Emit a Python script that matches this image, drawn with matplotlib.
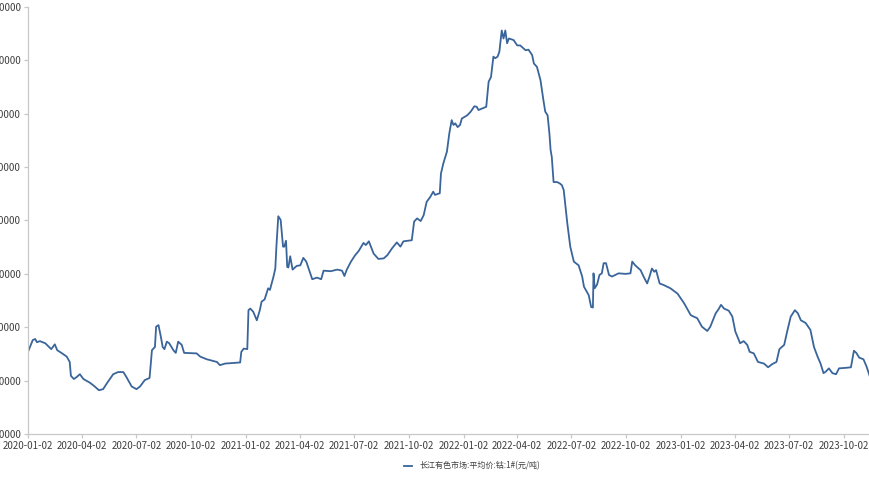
"""
    Cobalt 1# average price, Changjiang market
"""

import matplotlib
matplotlib.use('Agg')
import matplotlib.pyplot as plt
import matplotlib.dates as mdates
import pandas as pd

plt.rcParams['font.family'] = ['Noto Sans CJK SC', 'DejaVu Sans']

series_name = '长江有色市场:平均价:钴:1#(元/吨)'

dates = [
    '2020-01-02', '2020-01-10', '2020-01-14', '2020-01-17', '2020-01-22', '2020-01-31',
    '2020-02-10', '2020-02-16', '2020-02-20', '2020-02-27', '2020-03-07', '2020-03-12',
    '2020-03-14', '2020-03-19', '2020-03-24', '2020-03-29', '2020-04-04', '2020-04-15',
    '2020-04-23', '2020-04-30', '2020-05-07', '2020-05-14', '2020-05-24', '2020-06-01',
    '2020-06-10', '2020-06-15', '2020-06-24', '2020-07-02', '2020-07-08', '2020-07-16',
    '2020-07-24', '2020-07-28', '2020-08-02', '2020-08-04', '2020-08-08', '2020-08-12',
    '2020-08-15', '2020-08-18', '2020-08-22', '2020-08-26', '2020-09-02', '2020-09-06',
    '2020-09-10', '2020-09-16', '2020-09-20', '2020-10-11', '2020-10-17', '2020-10-28',
    '2020-11-14', '2020-11-19', '2020-11-28', '2020-12-23', '2020-12-25', '2020-12-29',
    '2021-01-04', '2021-01-06', '2021-01-09', '2021-01-14', '2021-01-20', '2021-01-25',
    '2021-01-28', '2021-02-02', '2021-02-06', '2021-02-08', '2021-02-11', '2021-02-17',
    '2021-02-20', '2021-02-22', '2021-02-25', '2021-03-01', '2021-03-05', '2021-03-07',
    '2021-03-10', '2021-03-12', '2021-03-14', '2021-03-17', '2021-03-21', '2021-03-28',
    '2021-04-03', '2021-04-08', '2021-04-13', '2021-04-17', '2021-04-23', '2021-05-01',
    '2021-05-08', '2021-05-12', '2021-05-24', '2021-06-04', '2021-06-12', '2021-06-16',
    '2021-06-20', '2021-06-27', '2021-07-04', '2021-07-10', '2021-07-18', '2021-07-22',
    '2021-07-27', '2021-08-04', '2021-08-12', '2021-08-21', '2021-08-27', '2021-09-04',
    '2021-09-12', '2021-09-18', '2021-09-23', '2021-10-07', '2021-10-11', '2021-10-16',
    '2021-10-22', '2021-10-27', '2021-11-01', '2021-11-07', '2021-11-12', '2021-11-15',
    '2021-11-23', '2021-11-25', '2021-11-29', '2021-12-05', '2021-12-09', '2021-12-13',
    '2021-12-16', '2021-12-19', '2021-12-23', '2021-12-27', '2021-12-30', '2022-01-08',
    '2022-01-14', '2022-01-20', '2022-01-24', '2022-01-27', '2022-02-09', '2022-02-13',
    '2022-02-17', '2022-02-21', '2022-02-24', '2022-02-28', '2022-03-03', '2022-03-07',
    '2022-03-10', '2022-03-13', '2022-03-16', '2022-03-19', '2022-03-27', '2022-04-02',
    '2022-04-07', '2022-04-16', '2022-04-21', '2022-04-27', '2022-04-30', '2022-05-05',
    '2022-05-11', '2022-05-16', '2022-05-19', '2022-05-23', '2022-05-26', '2022-05-28',
    '2022-05-30', '2022-06-02', '2022-06-08', '2022-06-13', '2022-06-16', '2022-06-19',
    '2022-06-25', '2022-06-30', '2022-07-06', '2022-07-14', '2022-07-20', '2022-07-23',
    '2022-07-31', '2022-08-04', '2022-08-07', '2022-08-08', '2022-08-10', '2022-08-14',
    '2022-08-18', '2022-08-22', '2022-08-25', '2022-08-29', '2022-09-03', '2022-09-08',
    '2022-09-19', '2022-10-01', '2022-10-09', '2022-10-12', '2022-10-17', '2022-10-26',
    '2022-10-31', '2022-11-06', '2022-11-10', '2022-11-14', '2022-11-18', '2022-11-21',
    '2022-11-27', '2022-12-04', '2022-12-15', '2022-12-27', '2023-01-07', '2023-01-18',
    '2023-01-21', '2023-01-29', '2023-02-06', '2023-02-15', '2023-02-20', '2023-02-24',
    '2023-03-01', '2023-03-06', '2023-03-10', '2023-03-15', '2023-03-23', '2023-03-29',
    '2023-04-03', '2023-04-11', '2023-04-17', '2023-04-23', '2023-04-27', '2023-05-04',
    '2023-05-11', '2023-05-21', '2023-05-28', '2023-06-04', '2023-06-11', '2023-06-16',
    '2023-06-24', '2023-06-29', '2023-07-05', '2023-07-12', '2023-07-17', '2023-07-22',
    '2023-07-30', '2023-08-07', '2023-08-13', '2023-08-19', '2023-08-24', '2023-08-29',
    '2023-09-02', '2023-09-07', '2023-09-13', '2023-09-19', '2023-09-24', '2023-10-06',
    '2023-10-14', '2023-10-19', '2023-10-23', '2023-10-28', '2023-11-04', '2023-11-09',
    '2023-11-15',
]

prices = [
    277000, 288000, 289000, 286000, 287000, 285000,
    279500, 284000, 278500, 276000, 272500, 267500,
    254500, 251500, 253500, 256000, 251500, 248000,
    244500, 241000, 242000, 248000, 256000, 258000,
    258000, 253500, 244500, 242000, 244500, 250500,
    252500, 278500, 281500, 300500, 302000, 291000,
    281500, 279500, 286500, 285000, 278500, 276000,
    286500, 283500, 276000, 275500, 272500, 270000,
    267500, 264500, 266000, 267000, 277000, 280000,
    279500, 316000, 317500, 314500, 306500, 316000,
    324000, 326000, 333000, 336500, 335000, 347500,
    355000, 377000, 404000, 400500, 375500, 375500,
    381000, 356500, 356000, 366500, 354000, 357500,
    358000, 365000, 361500, 355000, 345000, 346500,
    345000, 353000, 352500, 354000, 353000, 348000,
    354000, 361500, 367500, 371500, 379000, 377000,
    380500, 369000, 364000, 364500, 367500, 374000,
    379500, 375500, 380500, 381500, 399000, 402000,
    399500, 405000, 417500, 422000, 427000, 424000,
    425500, 444000, 453500, 464500, 481500, 494000,
    489500, 491000, 487500, 489500, 495500, 498500,
    502000, 507000, 506500, 503500, 506500, 530000,
    534500, 553500, 552000, 553500, 558000, 578000,
    570500, 578000, 566000, 570500, 569000, 564000,
    564000, 559500, 560000, 555000, 547000, 544000,
    531500, 512500, 502000, 498500, 481500, 466000,
    459500, 436000, 436000, 434500, 433000, 428500,
    397500, 375500, 361500, 358000, 347500, 338000,
    330000, 319000, 318500, 350500, 336500, 340000,
    349000, 350500, 360000, 360000, 349000, 347500,
    350500, 350000, 350500, 361500, 358000, 353500,
    347500, 341000, 347500, 355000, 352000, 353500,
    341000, 339500, 336500, 331500, 322500, 311500,
    310500, 308500, 300500, 296500, 300500, 306000,
    313000, 317000, 321000, 317500, 315500, 310000,
    296000, 285000, 287000, 283500, 277000, 275500,
    267500, 266000, 262500, 265500, 267500, 279500,
    283500, 296000, 310000, 316000, 313000, 306500,
    304000, 297500, 281500, 272500, 266000, 257000,
    258500, 261500, 257000, 256000, 261500, 262000,
    262500, 278000, 276000, 271500, 270000, 263500,
    253500,
]

tick_dates = ['2020-01-02', '2020-04-02', '2020-07-02', '2020-10-02',
              '2021-01-02', '2021-04-02', '2021-07-02', '2021-10-02',
              '2022-01-02', '2022-04-02', '2022-07-02', '2022-10-02',
              '2023-01-02', '2023-04-02', '2023-07-02', '2023-10-02']

y_ticks = [200000, 250000, 300000, 350000, 400000, 450000, 500000, 550000, 600000]

x = pd.to_datetime(dates)

fig = plt.figure(figsize=(8.7, 4.92), dpi=100)
ax = fig.add_axes([28 / 870, 1 - 434 / 492, 842 / 870, 427 / 492])

line, = ax.plot(x, prices, color='#3a659b', linewidth=1.3)

ax.set_xlim(pd.Timestamp('2020-01-02'), pd.Timestamp('2023-11-15'))
ax.set_ylim(200000, 600000)

ax.set_xticks(pd.to_datetime(tick_dates))
ax.xaxis.set_major_formatter(mdates.DateFormatter('%Y-%m-%d'))
ax.set_yticks(y_ticks)
ax.set_yticklabels([str(v) for v in y_ticks])

for side in ['top', 'right']:
    ax.spines[side].set_visible(False)
for side in ['left', 'bottom']:
    ax.spines[side].set_color('#c8c8c8')
    ax.spines[side].set_linewidth(0.9)

ax.tick_params(axis='both', colors='#c8c8c8', labelcolor='#404040',
               labelsize=7, length=3, width=0.9, pad=2)

# legend sits a bit right of the axes centre, like the source
fig.legend([line], [series_name], loc='center', frameon=False,
           bbox_to_anchor=(472 / 870, 1 - 466 / 492), fontsize=5.8,
           handlelength=1.1, handletextpad=0.9, labelcolor='#404040')

fig.savefig('out.png', dpi=100)
